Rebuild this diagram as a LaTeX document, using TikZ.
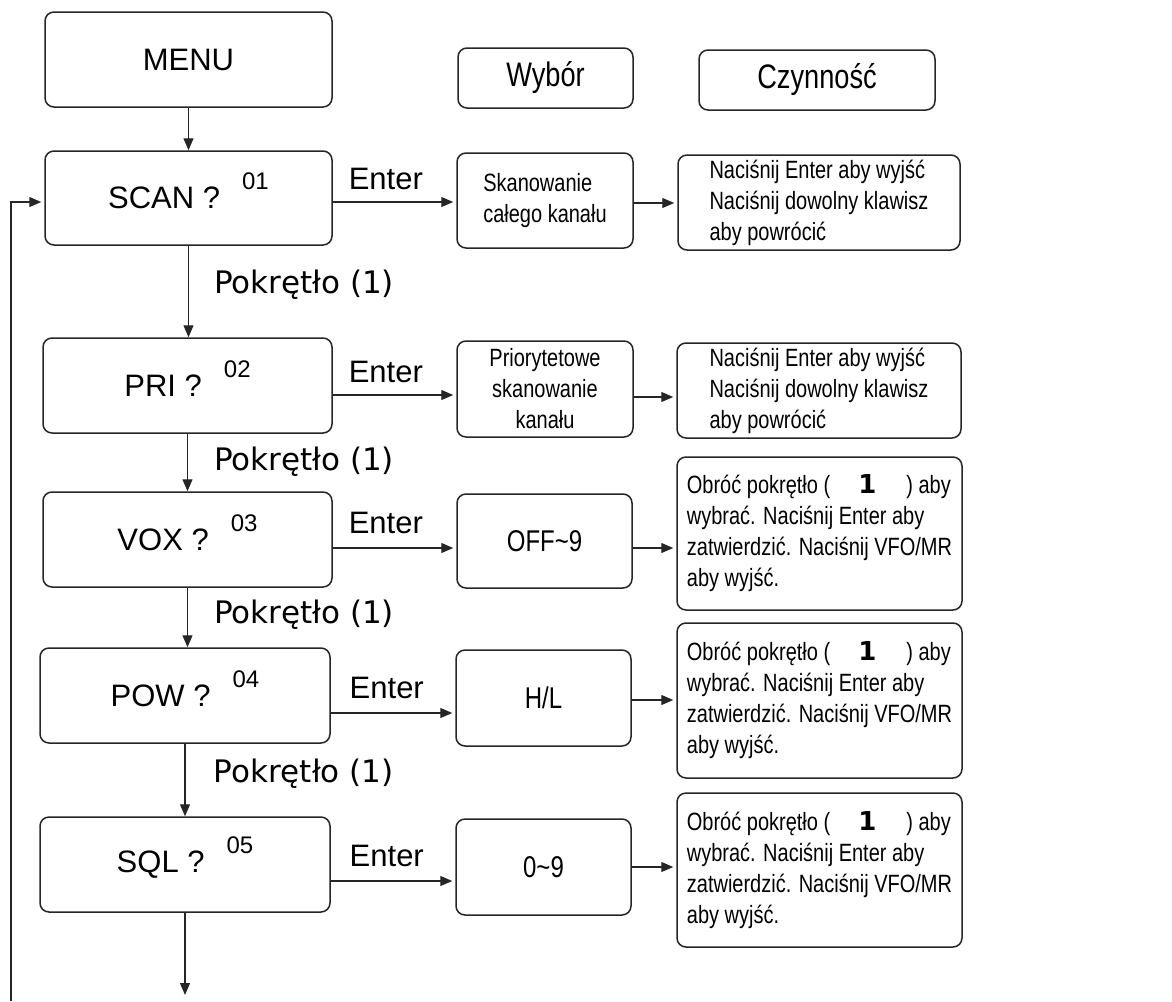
\documentclass[tikz,border=0pt]{standalone}
\usepackage{fontspec}
\setmainfont{Liberation Sans}
\newfontfamily\narrowfont[FakeStretch=0.8]{Liberation Sans}
\newfontfamily\dvfont{DejaVu Sans}
\usetikzlibrary{arrows.meta,calc}
\begin{document}
\begin{tikzpicture}[x=1pt,y=-1pt,
  box/.style={draw=black!85, line width=1.5pt, rounded corners=9pt, inner sep=0pt},
  arr/.style={draw=black!85, line width=1.2pt, -{Triangle[length=12pt,width=10pt]}},
  harr/.style={arr, shorten >=3pt},
  big/.style={font=\fontsize{31}{37}\selectfont},
  head/.style={font=\narrowfont\fontsize{34}{38}\selectfont},
  val/.style={font=\narrowfont\fontsize{30}{36}\selectfont},
  desc/.style={font=\narrowfont\fontsize{25}{31}\selectfont},
  pok/.style={font=\dvfont\fontsize{31}{37}\selectfont, inner sep=0pt},
  ent/.style={font=\fontsize{31}{37}\selectfont, anchor=base, inner sep=0pt}
]
\newcommand{\numsup}[1]{\hspace{22pt}\smash{\raisebox{19pt}{\fontsize{24}{24}\selectfont #1}}}
\newcommand{\knob}{\hspace{28pt}{\dvfont\bfseries\fontsize{26}{31}\selectfont 1}\hspace{30pt}}
\useasboundingbox (0,0) rectangle (1172,1001);

% left column
\node[box, big, minimum width=287pt, minimum height=95pt] (menu) at (188.5,59.5) {MENU};
\node[box, big, minimum width=287pt, minimum height=94pt] (scan) at (188.5,198) {SCAN ?\numsup{01}};
\node[box, big, minimum width=289pt, minimum height=95pt] (pri) at (187.5,385.5) {PRI ?\numsup{02}};
\node[box, big, minimum width=289pt, minimum height=95pt] (vox) at (187.5,539.5) {VOX ?\numsup{03}};
\node[box, big, minimum width=290pt, minimum height=95pt] (pow) at (185,695.5) {POW ?\numsup{04}};
\node[box, big, minimum width=290pt, minimum height=95pt] (sql) at (185,864.5) {SQL ?\numsup{05}};

% headings
\node[box, head, minimum width=175pt, minimum height=60pt] (wyb) at (545.5,78) {Wybór};
\node[box, head, minimum width=236pt, minimum height=60pt] (czy) at (817,80) {Czynność};

% middle column
\node[box, desc, align=left, minimum width=176pt, minimum height=95pt] (skan) at (545,200.5) {Skanowanie\\całego kanału};
\node[box, desc, align=center, minimum width=176pt, minimum height=96pt] (prio) at (545,389) {Priorytetowe\\skanowanie\\kanału};
\node[box, val, minimum width=175pt, minimum height=94pt] (off) at (544.5,541) {OFF\textasciitilde 9};
\node[box, val, minimum width=175pt, minimum height=96pt] (hl) at (543.5,698) {H/L};
\node[box, val, minimum width=175pt, minimum height=96pt] (zero) at (543.5,867) {0\textasciitilde 9};

% right column
\node[box, desc, align=left, minimum width=282pt, minimum height=95pt] (nac1) at (819,202.5) {Naciśnij Enter aby wyjść\\Naciśnij dowolny klawisz\\aby powrócić};
\node[box, desc, align=left, minimum width=284pt, minimum height=95pt] (nac2) at (819,390.5) {Naciśnij Enter aby wyjść\\Naciśnij dowolny klawisz\\aby powrócić};
\node[box, desc, align=left, minimum width=285pt, minimum height=153pt] (obr1) at (819.5,533.5) {Obróć pokrętło (\knob) aby\\wybrać. Naciśnij Enter aby\\zatwierdzić. Naciśnij VFO/MR\\aby wyjść.};
\node[box, desc, align=left, minimum width=285pt, minimum height=155pt] (obr2) at (819.5,700.5) {Obróć pokrętło (\knob) aby\\wybrać. Naciśnij Enter aby\\zatwierdzić. Naciśnij VFO/MR\\aby wyjść.};
\node[box, desc, align=left, minimum width=285pt, minimum height=154pt] (obr3) at (819.5,870) {Obróć pokrętło (\knob) aby\\wybrać. Naciśnij Enter aby\\zatwierdzić. Naciśnij VFO/MR\\aby wyjść.};

% vertical flow
\draw[arr] (menu.south) -- (menu.south |- scan.north);
\draw[arr] (scan.south) -- (scan.south |- pri.north) node[pok, pos=0.43, anchor=west, xshift=25pt] {Pokrętło (1)};
\draw[arr] (pri.south) -- (pri.south |- vox.north) node[pok, pos=0.49, anchor=west, xshift=26pt] {Pokrętło (1)};
\draw[arr] (vox.south) -- (vox.south |- pow.north) node[pok, pos=0.46, anchor=west, xshift=26pt] {Pokrętło (1)};
\draw[arr] (pow.south) -- (pow.south |- sql.north) node[pok, pos=0.41, anchor=west, xshift=28pt] {Pokrętło (1)};
\coordinate (bot) at (184,995);
\draw[arr] (sql.south) -- (sql.south |- bot);

% return line
\coordinate (ret) at (11,1001);
\draw[harr] (ret) |- ($(scan.west)+(0,4)$);

% Enter arrows
\draw[harr] ($(scan.east)+(0,4)$) coordinate (e1) -- (e1 -| skan.west) node[ent, pos=0.43, yshift=13pt] {Enter};
\draw[harr] ($(pri.east)+(0,9.5)$) coordinate (e2) -- (e2 -| prio.west) node[ent, pos=0.43, yshift=13pt] {Enter};
\draw[harr] ($(vox.east)+(0,8.5)$) coordinate (e3) -- (e3 -| off.west) node[ent, pos=0.43, yshift=15pt] {Enter};
\draw[harr] ($(pow.east)+(0,17.5)$) coordinate (e4) -- (e4 -| hl.west) node[ent, pos=0.45, yshift=15pt] {Enter};
\draw[harr] ($(sql.east)+(0,16.5)$) coordinate (e5) -- (e5 -| zero.west) node[ent, pos=0.45, yshift=15pt] {Enter};

% choice -> action arrows
\draw[harr] ($(skan.east)+(0,2.5)$) coordinate (c1) -- (c1 -| nac1.west);
\draw[harr] ($(prio.east)+(0,8)$) coordinate (c2) -- (c2 -| nac2.west);
\draw[harr] ($(off.east)+(0,7)$) coordinate (c3) -- (c3 -| obr1.west);
\draw[harr] ($(hl.east)+(0,2)$) coordinate (c4) -- (c4 -| obr2.west);
\draw[harr] (zero.east) -- (zero.east -| obr3.west);
\end{tikzpicture}
\end{document}
